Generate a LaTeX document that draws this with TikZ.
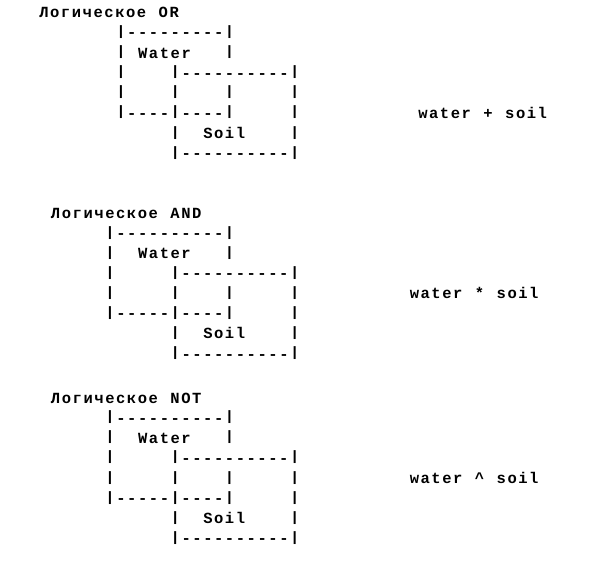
\documentclass[tikz,border=0pt]{standalone}
\usepackage{fontspec}
\usepackage{graphicx}
\setmonofont{Liberation Mono}
\newlength\cw
\setlength\cw{10.86pt}
% every character gets one fixed-width cell, as in a terminal font
\makeatletter
\def\M#1{\M@loop#1\relax}
\def\M@loop#1{\ifx#1\relax\else\M@cell{#1}\expandafter\M@loop\fi}
\def\M@cell#1{\ifx#1|\makebox[\cw][c]{\raisebox{2.4pt}{\scalebox{1}[0.88]{|}}}\else\makebox[\cw][c]{#1}\fi}
\makeatother
\tikzset{row/.style={anchor=base west, inner sep=0pt, outer sep=0pt,
  font=\ttfamily\bfseries\fontsize{15.5}{16}\selectfont, text=black}}
\begin{document}
\begin{tikzpicture}[x=1pt,y=-1pt]
\useasboundingbox[fill=white] (0,0) rectangle (590,571);
% ---------- block 1 : OR ----------
\node[row] (t1)   at (38.5,17.8)    {\M{Логическое~OR}};
\node[row] (a1r1) at (115.6,37.9)   {\M{|---------|}};
\node[row] (a1r2) at (115.6,58.0)   {\M{|~Water~~~|}};
\node[row] (a1r3) at (115.6,78.1)   {\M{|~~~~|----------|}};
\node[row] (a1r4) at (115.6,98.2)   {\M{|~~~~|~~~~|~~~~~|}};
\node[row] (a1r5) at (115.6,118.3)  {\M{|----|----|~~~~~|}};
\node[row] (a1r6) at (169.9,138.4)  {\M{|~~Soil~~~~|}};
\node[row] (a1r7) at (169.9,158.5)  {\M{|----------|}};
\node[row] (l1)   at (417.5,118.3)  {\M{water~+~soil}};
% ---------- block 2 : AND ----------
\node[row] (t2)   at (50.2,218.3)   {\M{Логическое~AND}};
\node[row] (a2r1) at (104.7,238.4)  {\M{|----------|}};
\node[row] (a2r2) at (104.7,258.5)  {\M{|~~Water~~~|}};
\node[row] (a2r3) at (104.7,278.6)  {\M{|~~~~~|----------|}};
\node[row] (a2r4) at (104.7,298.7)  {\M{|~~~~~|~~~~|~~~~~|}};
\node[row] (a2r5) at (104.7,318.8)  {\M{|-----|----|~~~~~|}};
\node[row] (a2r6) at (169.9,338.9)  {\M{|~~Soil~~~~|}};
\node[row] (a2r7) at (169.9,359.0)  {\M{|----------|}};
\node[row] (l2)   at (409.0,298.7)  {\M{water~*~soil}};
% ---------- block 3 : NOT ----------
\node[row] (t3)   at (50.2,403.0)   {\M{Логическое~NOT}};
\node[row] (a3r1) at (104.7,423.1)  {\M{|----------|}};
\node[row] (a3r2) at (104.7,443.2)  {\M{|~~Water~~~|}};
\node[row] (a3r3) at (104.7,463.3)  {\M{|~~~~~|----------|}};
\node[row] (a3r4) at (104.7,483.4)  {\M{|~~~~~|~~~~|~~~~~|}};
\node[row] (a3r5) at (104.7,503.5)  {\M{|-----|----|~~~~~|}};
\node[row] (a3r6) at (169.9,523.6)  {\M{|~~Soil~~~~|}};
\node[row] (a3r7) at (169.9,543.7)  {\M{|----------|}};
\node[row] (l3)   at (409.0,483.4)  {\M{water~\textasciicircum~soil}};
\end{tikzpicture}
\end{document}
